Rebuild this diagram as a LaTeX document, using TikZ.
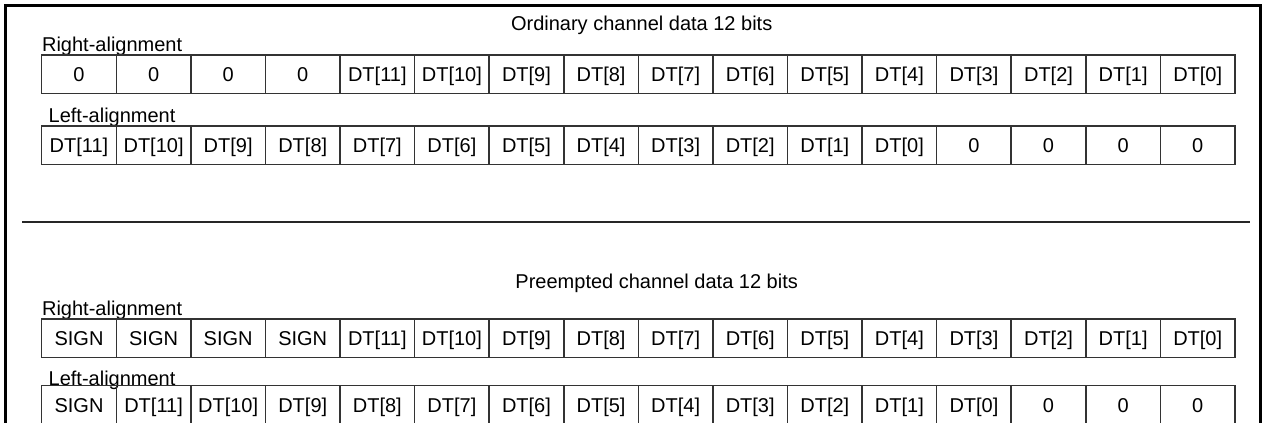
\documentclass[tikz,border=0pt]{standalone}
\usepackage{fontspec}
\setmainfont{Liberation Sans}
\usetikzlibrary{positioning}

\begin{document}
\begin{tikzpicture}[x=0.5pt, y=-0.5pt, every node/.style={font=\fontsize{10}{12}\selectfont},
  cellbx/.style={draw=black!80, line width=0.75pt, minimum width=37.29pt, minimum height=19.15pt, text height=7.2pt, text depth=0pt, inner sep=0pt, outer sep=0pt, anchor=north west},
  rowlbl/.style={anchor=base west, inner sep=0pt},
  ttl/.style={anchor=base, inner sep=0pt}]
\useasboundingbox (0,0) rectangle (1265,423);
\clip (0,0) rectangle (1265,423);
% Outer frame and separator
\draw[line width=1.5pt] (5,5) rectangle (1260,460);
\coordinate (sepl) at (22,221.7);
\coordinate (sepr) at (1250,221.7);
\draw[line width=1pt, black!85] (sepl) -- (sepr);
% Ordinary channel data
\node[ttl] (ordttl) at (641.7,31) {Ordinary channel data 12 bits};
\node[rowlbl] (ordRlbl) at (41.7,51) {Right-alignment};
\foreach \t [count=\i from 0] in {0,0,0,0,DT[11],DT[10],DT[9],DT[8],DT[7],DT[6],DT[5],DT[4],DT[3],DT[2],DT[1],DT[0]}
  \node[cellbx] (ordR-\i) at ({41.7+\i*74.58},55) {\t};
\node[rowlbl] (ordLlbl) at (48.3,122) {Left-alignment};
\foreach \t [count=\i from 0] in {DT[11],DT[10],DT[9],DT[8],DT[7],DT[6],DT[5],DT[4],DT[3],DT[2],DT[1],DT[0],0,0,0,0}
  \node[cellbx] (ordL-\i) at ({41.7+\i*74.58},126) {\t};
% Preempted channel data
\node[ttl] (prettl) at (656.7,288) {Preempted channel data 12 bits};
\node[rowlbl] (preRlbl) at (41.7,315.5) {Right-alignment};
\foreach \t [count=\i from 0] in {SIGN,SIGN,SIGN,SIGN,DT[11],DT[10],DT[9],DT[8],DT[7],DT[6],DT[5],DT[4],DT[3],DT[2],DT[1],DT[0]}
  \node[cellbx] (preR-\i) at ({41.7+\i*74.58},319) {\t};
\node[rowlbl] (preLlbl) at (48.3,385.5) {Left-alignment};
\foreach \t [count=\i from 0] in {SIGN,DT[11],DT[10],DT[9],DT[8],DT[7],DT[6],DT[5],DT[4],DT[3],DT[2],DT[1],DT[0],0,0,0}
  \node[cellbx] (preL-\i) at ({41.7+\i*74.58},385.7) {\t};
\end{tikzpicture}
\end{document}
